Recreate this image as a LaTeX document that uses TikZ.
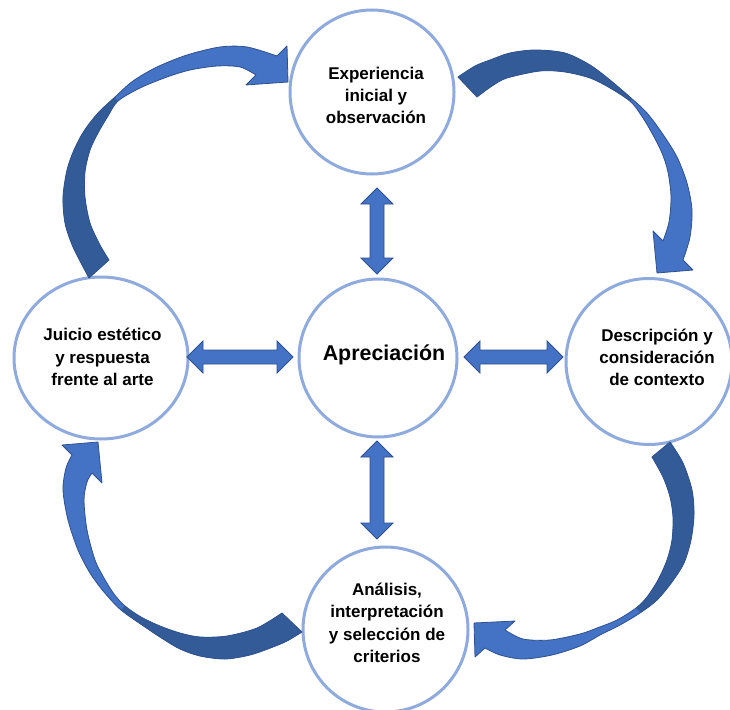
\documentclass[tikz,border=0pt]{standalone}
\usepackage{fontspec}
\setmainfont{Liberation Sans}
\usetikzlibrary{calc,shapes.geometric}
\definecolor{ring}{HTML}{8FAADC}
\definecolor{abl}{HTML}{4472C4}
\definecolor{abd}{HTML}{335B98}
\definecolor{aol}{HTML}{2F528F}
\tikzset{
  ringnode/.style={circle, draw=ring, line width=3pt, fill=white, inner sep=0pt},
  ringoval/.style={ellipse, draw=ring, line width=3pt, fill=white, inner sep=0pt},
  lbl/.style={font=\bfseries\fontsize{17}{22.3}\selectfont, align=center, inner sep=0pt},
  biglbl/.style={font=\bfseries\fontsize{21.4}{25}\selectfont, inner sep=0pt},
  blockarrow/.style={fill=abl, draw=aol, line width=0.8pt, line join=miter},
  arrowline/.style={draw=aol, line width=0.8pt, line join=round},
}
\newcommand\dblarrow[2]{%
  \path[blockarrow] (#1)
    -- ($(#1)!16pt!(#2)!16pt!90:(#2)$)
    -- ($(#1)!16pt!(#2)!7pt!90:(#2)$)
    -- ($(#2)!16pt!(#1)!7pt!-90:(#1)$)
    -- ($(#2)!16pt!(#1)!16pt!-90:(#1)$)
    -- (#2)
    -- ($(#2)!16pt!(#1)!16pt!90:(#1)$)
    -- ($(#2)!16pt!(#1)!7pt!90:(#1)$)
    -- ($(#1)!16pt!(#2)!7pt!-90:(#2)$)
    -- ($(#1)!16pt!(#2)!16pt!-90:(#2)$)
    -- cycle;}
\newcommand\curvarrow[2]{%
  \fill[abl] #1;
  \begin{scope}\clip #1; \fill[abd] #2; \end{scope}
  \path[arrowline] #1;}
\begin{document}
\begin{tikzpicture}[x=1pt,y=-1pt]
\useasboundingbox (0,0) rectangle (730,709);
\fill[white] (0,0) rectangle (730,709);

% circles
\node[ringnode, minimum size=164pt] (t) at (372,92) {};
\node[ringoval, minimum width=174pt, minimum height=162pt] (l) at (101,358) {};
\node[ringnode, minimum size=158pt] (c) at (378,358) {};
\node[ringnode, minimum size=166pt] (r) at (649,361.5) {};
\node[ringnode, minimum size=165pt] (b) at (385.5,629.5) {};

% texts
\node[lbl] (tt) at (376,95.5) {Experiencia\\inicial y\\observación};
\node[lbl] (lt) at (102.5,357) {Juicio estético\\y respuesta\\frente al arte};
\node[lbl] (rt) at (657,357.3) {Descripción y\\consideración\\de contexto};
\node[lbl] (bt) at (387,622.7) {Análisis,\\interpretación\\y selección de\\criterios};
\node[biglbl] (ct) at (384,354.5) {Apreciación};

% straight double arrows
\coordinate (va1) at (377,188);
\coordinate (va2) at (377,274);
\coordinate (vb1) at (377,441);
\coordinate (vb2) at (377,539);
\coordinate (ha1) at (187,357);
\coordinate (ha2) at (293,357);
\coordinate (hb1) at (464,357);
\coordinate (hb2) at (563,357);
\dblarrow{va1}{va2}
\dblarrow{vb1}{vb2}
\dblarrow{ha1}{ha2}
\dblarrow{hb1}{hb2}

% curved arrow: top -> right
\curvarrow{plot[smooth] coordinates {(458,77) (475,66) (490,60) (510,53) (535,50) (565,53) (590,65) (610,80) (631,98) (647,113) (662,133) (677,157) (687,183) (692,210) (690,237) (683,260)}
  -- (693,270) -- (657,273) -- (653,231)
  -- plot[smooth] coordinates {(663,241) (669,222) (671,197) (668,172) (662,153) (653,135) (643,118) (631,102) (610,88) (590,78) (565,72) (540,71) (507,78) (492,86) (477,97)} -- cycle}
  {(831,-100) -- (431,300) -- (231,100) -- (631,-300) -- cycle}

% curved arrow: left -> top
\curvarrow{plot[smooth] coordinates {(89,278) (73,247) (65,223) (63,197) (67,170) (74,150) (84,131) (98,113) (115,97) (133,81) (157,67) (187,55) (220,47) (247,47) (277,56)}
  -- (287,46) -- (288,82) -- (246,85)
  -- plot[smooth] coordinates {(256,75) (240,67) (217,66) (190,70) (167,77) (140,88) (118,101) (108,116) (98,133) (90,150) (85,172) (85,197) (90,223) (100,245) (109,260)} -- cycle}
  {(317,300) -- (-83,-100) -- (-283,100) -- (117,500) -- cycle}

% curved arrow: right -> bottom
\curvarrow{plot[smooth] coordinates {(670,442) (683,463) (692,490) (694,515) (691,540) (684,563) (672,582) (657,600) (640,613) (620,625) (600,635) (580,646) (552,655) (523,659) (500,655) (485,648)}
  -- (475,657) -- (474,623) -- (515,621)
  -- plot[smooth] coordinates {(505,630) (523,639) (550,640) (580,634) (597,628) (617,620) (636,608) (647,597) (658,580) (667,560) (672,540) (673,517) (670,497) (663,477) (652,457)} -- cycle}
  {(838,810) -- (438,410) -- (638,210) -- (1038,610) -- cycle}

% curved arrow: bottom -> left
\curvarrow{plot[smooth] coordinates {(302,632) (287,641) (273,647) (250,655) (225,659) (200,656) (180,649) (163,639) (145,627) (121,610) (104,592) (90,573) (78,550) (68,520) (63,490) (66,468) (72,455)}
  -- (62,445) -- (98,442) -- (102,483)
  -- plot[smooth] coordinates {(92,473) (87,482) (84,500) (87,530) (95,560) (104,578) (114,594) (125,606) (141,617) (160,626) (180,633) (200,637) (227,636) (257,628) (282,613)} -- cycle}
  {(323,408) -- (-77,808) -- (123,1008) -- (523,608) -- cycle}
\end{tikzpicture}
\end{document}
